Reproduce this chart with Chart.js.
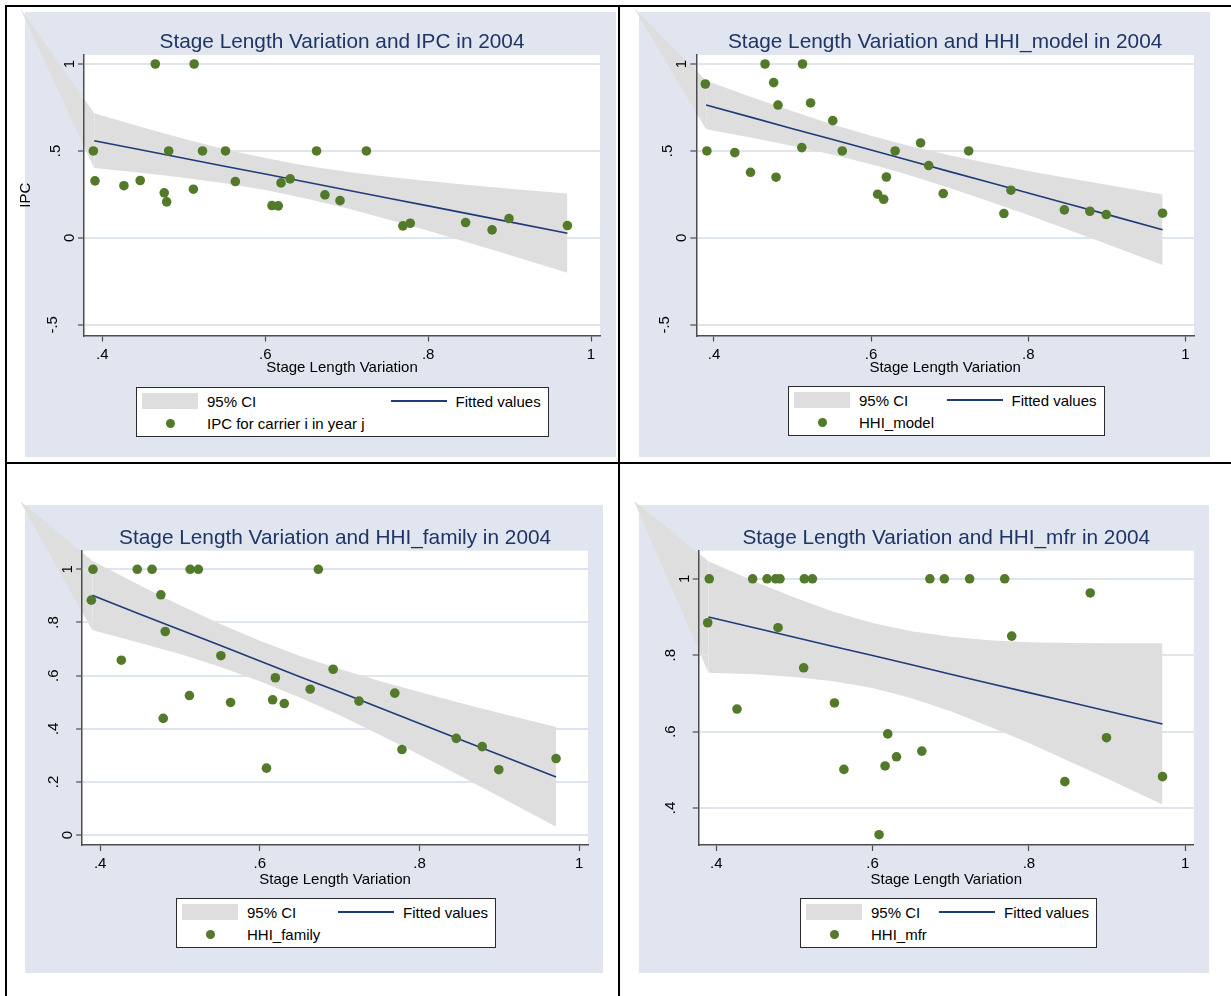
<!DOCTYPE html>
<html>
<head>
<meta charset="utf-8">
<script src="https://cdn.jsdelivr.net/npm/chart.js@4.4.1/dist/chart.umd.min.js"></script>
<style>
  body { margin: 0; background: #fff; width: 1231px; height: 996px; position: relative; overflow: hidden;
         font-family: 'Liberation Sans', Arial, sans-serif; }
  canvas { position: absolute; z-index: 1; }
  .rule { position: absolute; background: #000; z-index: 5; }
  .leg { position: absolute; z-index: 3; display: grid; grid-auto-rows: 22px; column-gap: 9px; align-items: center;
         padding: 2px 7px 2px 5px; border: 1px solid #2b2b2b; background: #fff; font-size: 15px; color: #000; white-space: nowrap; }
  .ci { width: 56px; height: 16px; background: #dedede; }
  .ln { width: 56px; height: 0; border-top: 2px solid #1f3b78; }
  .dot { width: 9px; height: 9px; border-radius: 50%; background: #527a2a; justify-self: center; }
</style>
</head>
<body>
<div class="rule" style="left:5px;top:5px;width:1226px;height:2px"></div>
<div class="rule" style="left:5px;top:5px;width:2px;height:991px"></div>
<div class="rule" style="left:618px;top:5px;width:2px;height:991px"></div>
<div class="rule" style="left:5px;top:462px;width:1226px;height:2px"></div>

<script>
// stage length variation of each carrier (same carriers in all four panels)
const stageVar = [0.389, 0.391, 0.4265, 0.4465, 0.465, 0.476, 0.479, 0.4815, 0.5118, 0.5127,
  0.523, 0.5512, 0.5633, 0.6083, 0.616, 0.6194, 0.6306, 0.663, 0.6733, 0.6918,
  0.7242, 0.769, 0.778, 0.846, 0.8785, 0.8993, 0.971];

const ipc = [0.5, 0.328, 0.30, 0.33, 1.0, 0.259, 0.207, 0.5, 0.28, 1.0,
  0.5, 0.5, 0.324, 0.186, 0.184, 0.316, 0.339, 0.5, 0.247, 0.214,
  0.5, 0.069, 0.084, 0.088, 0.046, 0.111, 0.071];
const hhiModel = [0.885, 0.5, 0.49, 0.377, 1.0, 0.893, 0.349, 0.764, 0.519, 1.0,
  0.776, 0.674, 0.5, 0.251, 0.222, 0.35, 0.5, 0.546, 0.416, 0.255,
  0.5, 0.14, 0.274, 0.161, 0.153, 0.134, 0.142];
const hhiFamily = [0.884, 1.0, 0.658, 1.0, 1.0, 0.904, 0.439, 0.766, 0.525, 1.0,
  1.0, 0.675, 0.499, 0.252, 0.509, 0.592, 0.495, 0.549, 1.0, 0.624,
  0.504, 0.534, 0.322, 0.364, 0.333, 0.246, 0.288];
const hhiMfr = [0.885, 1.0, 0.659, 1.0, 1.0, 1.0, 0.872, 1.0, 0.767, 1.0,
  1.0, 0.675, 0.501, 0.33, 0.51, 0.594, 0.534, 0.549, 1.0, 1.0,
  1.0, 1.0, 0.85, 0.469, 0.963, 0.584, 0.482];

// fitted values and 95% CI read along the x range
const fitX = [0.39, 0.45, 0.5, 0.55, 0.6, 0.65, 0.7, 0.75, 0.8, 0.85, 0.9, 0.971];
const ipcFit = [0.559, 0.504, 0.458, 0.412, 0.367, 0.321, 0.275, 0.229, 0.184, 0.138, 0.092, 0.027];
const ipcHi  = [0.716, 0.635, 0.570, 0.510, 0.459, 0.415, 0.380, 0.351, 0.327, 0.304, 0.283, 0.255];
const ipcLo  = [0.402, 0.373, 0.346, 0.314, 0.275, 0.227, 0.170, 0.107, 0.041, -0.028, -0.099, -0.201];
const modelFit = [0.764, 0.690, 0.628, 0.567, 0.505, 0.443, 0.381, 0.320, 0.258, 0.196, 0.135, 0.047];
const modelHi  = [0.904, 0.806, 0.728, 0.654, 0.587, 0.527, 0.475, 0.429, 0.385, 0.344, 0.305, 0.250];
const modelLo  = [0.624, 0.574, 0.528, 0.479, 0.423, 0.359, 0.287, 0.211, 0.131, 0.048, -0.035, -0.156];
const familyFit = [0.902, 0.831, 0.773, 0.714, 0.655, 0.596, 0.538, 0.479, 0.420, 0.361, 0.302, 0.219];
const familyHi  = [1.032, 0.939, 0.865, 0.795, 0.731, 0.674, 0.625, 0.580, 0.538, 0.498, 0.459, 0.407];
const familyLo  = [0.772, 0.723, 0.681, 0.633, 0.579, 0.518, 0.451, 0.378, 0.302, 0.224, 0.145, 0.031];
const mfrFit = [0.900, 0.871, 0.847, 0.823, 0.799, 0.775, 0.750, 0.726, 0.702, 0.678, 0.654, 0.620];
const mfrHi  = [1.046, 0.992, 0.951, 0.914, 0.884, 0.863, 0.848, 0.839, 0.834, 0.832, 0.831, 0.831];
const mfrLo  = [0.754, 0.750, 0.743, 0.732, 0.714, 0.687, 0.653, 0.613, 0.570, 0.524, 0.477, 0.409];

const xTicks = [0.4, 0.6, 0.8, 1];
const xTickLabels = ['.4', '.6', '.8', '1'];
const yTicksWide = [-0.5, 0, 0.5, 1];
const yLabelsWide = ['-.5', '0', '.5', '1'];
const yTicksFamily = [0, 0.2, 0.4, 0.6, 0.8, 1];
const yLabelsFamily = ['0', '.2', '.4', '.6', '.8', '1'];
const yTicksMfr = [0.4, 0.6, 0.8, 1];
const yLabelsMfr = ['.4', '.6', '.8', '1'];

const FONT = "'Liberation Sans', Arial, sans-serif";
const BG = '#e0e5ef', GRID = '#dfe5ef', CI = '#dedede', GREEN = '#527a2a', NAVY = '#1f3b78';
const TITLE = '#1f3564', AXIS = '#4d4d4d';

Chart.defaults.font.family = FONT;

const panels = [
  { title: 'Stage Length Variation and IPC in 2004', label: 'IPC for carrier i in year j', yTitle: 'IPC',
    ys: ipc, fit: ipcFit, hi: ipcHi, lo: ipcLo, yTicks: yTicksWide, yLabels: yLabelsWide, yMin: -0.5615, yMax: 1.0517,
    bg: [25, 12, 591, 445], area: [84, 55, 600, 335.5], titleBase: 48, xTitleMid: 368, leg: [136, 387, 174.6] },
  { title: 'Stage Length Variation and HHI_model in 2004', label: 'HHI_model', yTitle: '',
    ys: hhiModel, fit: modelFit, hi: modelHi, lo: modelLo, yTicks: yTicksWide, yLabels: yLabelsWide, yMin: -0.5615, yMax: 1.0517,
    bg: [639, 12, 571, 445], area: [696.3, 55, 1194, 335.5], titleBase: 48.3, xTitleMid: 368, leg: [788, 386, 78.5] },
  { title: 'Stage Length Variation and HHI_family in 2004', label: 'HHI_family', yTitle: '',
    ys: hhiFamily, fit: familyFit, hi: familyHi, lo: familyLo, yTicks: yTicksFamily, yLabels: yLabelsFamily, yMin: -0.0372, yMax: 1.070,
    bg: [25, 505, 578, 468], area: [82.2, 550.7, 588, 845], titleBase: 543.6, xTitleMid: 879.8, leg: [176, 898, 82] },
  { title: 'Stage Length Variation and HHI_mfr in 2004', label: 'HHI_mfr', yTitle: '',
    ys: hhiMfr, fit: mfrFit, hi: mfrHi, lo: mfrLo, yTicks: yTicksMfr, yLabels: yLabelsMfr, yMin: 0.3031, yMax: 1.0736,
    bg: [639, 505, 570, 468], area: [698.7, 550.7, 1193.8, 845], titleBase: 543.6, xTitleMid: 879.8, leg: [800, 898, 59] }
];

function stataLook(p, cx, cy) {
  return {
    id: 'stataLook',
    beforeDraw(chart) {
      const { ctx, chartArea: a } = chart;
      const xs = chart.scales.x, ys = chart.scales.y;
      ctx.save();
      ctx.fillStyle = BG;
      ctx.fillRect(8, 8, p.bg[2], p.bg[3]);
      ctx.fillStyle = '#fff';
      ctx.fillRect(a.left, a.top, a.right - a.left, a.bottom - a.top);
      // stray piece of the CI polygon running to the graph corner
      const x0 = xs.getPixelForValue(fitX[0]);
      ctx.fillStyle = CI;
      ctx.beginPath();
      ctx.moveTo(3, 4);
      ctx.lineTo(x0, ys.getPixelForValue(p.hi[0]));
      ctx.lineTo(x0, ys.getPixelForValue(p.lo[0]));
      ctx.closePath();
      ctx.fill();
      ctx.restore();
    },
    afterDraw(chart) {
      const { ctx, chartArea: a } = chart;
      const ys = chart.scales.y;
      ctx.save();
      ctx.font = '20.8px ' + FONT;
      ctx.fillStyle = TITLE;
      ctx.textAlign = 'center';
      ctx.textBaseline = 'alphabetic';
      ctx.fillText(p.title, (a.left + a.right) / 2, p.titleBase - cy);
      // vertical y tick labels
      ctx.font = '15px ' + FONT;
      ctx.fillStyle = '#000';
      p.yTicks.forEach((v, i) => {
        const lab = p.yLabels[i];
        const off = lab.indexOf('.') < 0 ? 10 : (lab[0] === '-' ? 27.5 : 24);
        ctx.save();
        ctx.translate(a.left - off, ys.getPixelForValue(v));
        ctx.rotate(-Math.PI / 2);
        ctx.fillText(lab, 0, 0);
        ctx.restore();
      });
      ctx.restore();
    }
  };
}

panels.forEach(p => {
  const cx = p.bg[0] - 8, cy = p.bg[1] - 8;
  const W = p.bg[2] + 16, H = p.bg[3] + 16;
  const cv = document.createElement('canvas');
  cv.width = W; cv.height = H;
  cv.style.left = cx + 'px'; cv.style.top = cy + 'px';
  cv.style.width = W + 'px'; cv.style.height = H + 'px';
  document.body.appendChild(cv);

  const xBottom = p.xTitleMid + 9;
  new Chart(cv, {
    type: 'scatter',
    data: {
      datasets: [
        { type: 'scatter', data: p.ys.map((y, i) => ({ x: stageVar[i], y })),
          pointRadius: 4.8, pointBackgroundColor: GREEN, pointBorderWidth: 0, order: 0 },
        { type: 'line', data: fitX.map((x, i) => ({ x, y: p.fit[i] })),
          borderColor: NAVY, borderWidth: 1.6, pointRadius: 0, fill: false, order: 1 },
        { type: 'line', data: fitX.map((x, i) => ({ x, y: p.hi[i] })),
          borderColor: 'rgba(0,0,0,0)', borderWidth: 0, pointRadius: 0, fill: '+1', backgroundColor: CI, order: 2 },
        { type: 'line', data: fitX.map((x, i) => ({ x, y: p.lo[i] })),
          borderColor: 'rgba(0,0,0,0)', borderWidth: 0, pointRadius: 0, fill: false, order: 3 }
      ]
    },
    options: {
      responsive: false,
      animation: false,
      devicePixelRatio: 1,
      layout: { padding: { left: 0, top: p.area[1] - cy, right: cx + W - p.area[2], bottom: cy + H - xBottom } },
      plugins: { legend: { display: false }, tooltip: { enabled: false }, title: { display: false } },
      scales: {
        x: {
          type: 'linear', min: 0.3775, max: 1.011,
          afterBuildTicks: s => { s.ticks = xTicks.map(v => ({ value: v })); },
          afterFit: s => { s.height = xBottom - p.area[3]; },
          ticks: { callback: (v, i) => xTickLabels[i], color: '#000', font: { size: 15 }, padding: 4,
                   maxRotation: 0, autoSkip: false },
          grid: { drawOnChartArea: false, drawTicks: true, tickLength: 6, tickColor: AXIS, tickWidth: 1.2 },
          border: { display: true, color: AXIS, width: 1.5 },
          title: { display: true, text: 'Stage Length Variation', color: '#000', font: { size: 15 }, padding: 0 }
        },
        y: {
          type: 'linear', min: p.yMin, max: p.yMax,
          afterBuildTicks: s => { s.ticks = p.yTicks.map(v => ({ value: v })); },
          afterFit: s => { s.width = p.area[0] - cx; },
          ticks: { display: false },
          grid: { color: GRID, lineWidth: 2, drawTicks: true, tickLength: 6, tickColor: AXIS, tickWidth: 1.2 },
          border: { display: true, color: AXIS, width: 1.5 },
          title: { display: !!p.yTitle, text: p.yTitle, color: '#000', font: { size: 15 }, padding: 0 }
        }
      }
    },
    plugins: [stataLook(p, cx, cy)]
  });

  const leg = document.createElement('div');
  leg.className = 'leg';
  leg.style.left = p.leg[0] + 'px';
  leg.style.top = p.leg[1] + 'px';
  leg.style.gridTemplateColumns = '56px ' + p.leg[2] + 'px 56px auto';
  leg.innerHTML = '<div class="ci"></div><div>95% CI</div><div class="ln"></div><div>Fitted values</div>' +
    '<div class="dot"></div><div>' + p.label + '</div><div></div><div></div>';
  document.body.appendChild(leg);
});
</script>
</body>
</html>
